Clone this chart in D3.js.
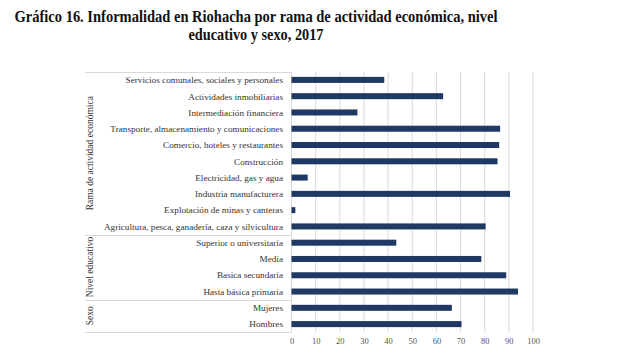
<!DOCTYPE html>
<html>
<head>
<meta charset="utf-8">
<script src="https://cdn.jsdelivr.net/npm/d3@7"></script>
<style>
  body { margin: 0; background: #fff; }
  svg text { font-family: "Liberation Serif", "DejaVu Serif", serif; }
</style>
</head>
<body>
<div id="chart"></div>
<script>
// chart data, top row first
var categories = [
  "Servicios comunales, sociales y personales",
  "Actividades inmobiliarias",
  "Intermediación financiera",
  "Transporte, almacenamiento y comunicaciones",
  "Comercio, hoteles y restaurantes",
  "Construcción",
  "Electricidad, gas y agua",
  "Industria manufacturera",
  "Explotación de minas y canteras",
  "Agricultura, pesca, ganadería, caza y silvicultura",
  "Superior o universitaria",
  "Media",
  "Basica secundaria",
  "Hasta básica primaria",
  "Mujeres",
  "Hombres"
];
var values = [38.4, 62.8, 27.3, 86.4, 86.0, 85.3, 6.7, 90.5, 1.6, 80.4,
              43.4, 78.6, 88.9, 93.8, 66.4, 70.4];
var groupNames = ["Rama de actividad económica", "Nivel educativo", "Sexo"];
var groupSizes = [10, 4, 2];
var xTicks = [0, 10, 20, 30, 40, 50, 60, 70, 80, 90, 100];

var width = 640, height = 364;
var plotLeft = 291.5, plotRight = 533, plotTop = 72, plotBottom = 332;

var svg = d3.select("#chart").append("svg")
  .attr("width", width)
  .attr("height", height);

var x = d3.scaleLinear().domain([0, 100]).range([plotLeft, plotRight]);
var y = d3.scaleBand().domain(categories).range([plotTop, plotBottom]).paddingInner(0.63).paddingOuter(0.3);
var rows = d3.scaleBand().domain(categories).range([plotTop, plotBottom]);

// title
svg.append("text")
  .attr("x", 256).attr("y", 22)
  .attr("text-anchor", "middle")
  .attr("textLength", 483).attr("lengthAdjust", "spacingAndGlyphs")
  .style("font-weight", "bold").style("font-size", "17px").style("fill", "#111")
  .text("Gráfico 16. Informalidad en Riohacha por rama de actividad económica, nivel");
svg.append("text")
  .attr("x", 256).attr("y", 40)
  .attr("text-anchor", "middle")
  .attr("textLength", 135).attr("lengthAdjust", "spacingAndGlyphs")
  .style("font-weight", "bold").style("font-size", "17px").style("fill", "#111")
  .text("educativo y sexo, 2017");

// gridlines
svg.append("g").selectAll("line")
  .data(xTicks.slice(1))
  .enter().append("line")
  .attr("x1", function(d){ return x(d); })
  .attr("x2", function(d){ return x(d); })
  .attr("y1", plotTop).attr("y2", plotBottom)
  .attr("stroke", "#d9d9d9").attr("stroke-width", 1);

// x axis
var xAxis = d3.axisBottom(x).tickValues(xTicks).tickSize(0).tickPadding(0);
var gx = svg.append("g")
  .attr("transform", "translate(0," + (plotBottom + 6) + ")")
  .call(xAxis);
gx.select(".domain").remove();
gx.selectAll("text")
  .style("font-family", "Liberation Serif, serif")
  .style("font-size", "8.5px").attr("fill", "#555")
  .attr("dy", "0.71em");

// group frame lines on the left
var bounds = [0];
groupSizes.forEach(function(n, i){ bounds.push(bounds[i] + n); });
svg.append("g").selectAll("line")
  .data(bounds)
  .enter().append("line")
  .attr("x1", 85).attr("x2", plotLeft)
  .attr("y1", function(d){ return Math.round(plotTop + d * rows.step()) + 0.5; })
  .attr("y2", function(d){ return Math.round(plotTop + d * rows.step()) + 0.5; })
  .attr("stroke", "#d9d9d9");
svg.append("line")
  .attr("x1", plotLeft).attr("x2", plotLeft)
  .attr("y1", plotTop).attr("y2", plotBottom)
  .attr("stroke", "#d9d9d9");

// group labels (rotated)
svg.append("g").selectAll("text")
  .data(groupNames)
  .enter().append("text")
  .attr("transform", function(d, i){
    var cy = plotTop + (bounds[i] + bounds[i + 1]) / 2 * rows.step();
    return "translate(93," + cy + ")rotate(-90)";
  })
  .attr("text-anchor", "middle")
  .style("font-size", "9.5px").style("fill", "#333")
  .text(function(d){ return d; });

// category labels
svg.append("g").selectAll("text")
  .data(categories)
  .enter().append("text")
  .attr("x", 283)
  .attr("y", function(d){ return rows(d) + rows.bandwidth() / 2; })
  .attr("dy", "0.35em")
  .attr("text-anchor", "end")
  .style("font-size", "9.2px").style("fill", "#333")
  .text(function(d){ return d; });

// bars
svg.append("g").selectAll("rect")
  .data(values)
  .enter().append("rect")
  .attr("x", x(0))
  .attr("y", function(d, i){ return y(categories[i]); })
  .attr("width", function(d){ return x(d) - x(0); })
  .attr("height", y.bandwidth())
  .attr("fill", "#203864");
</script>
</body>
</html>
